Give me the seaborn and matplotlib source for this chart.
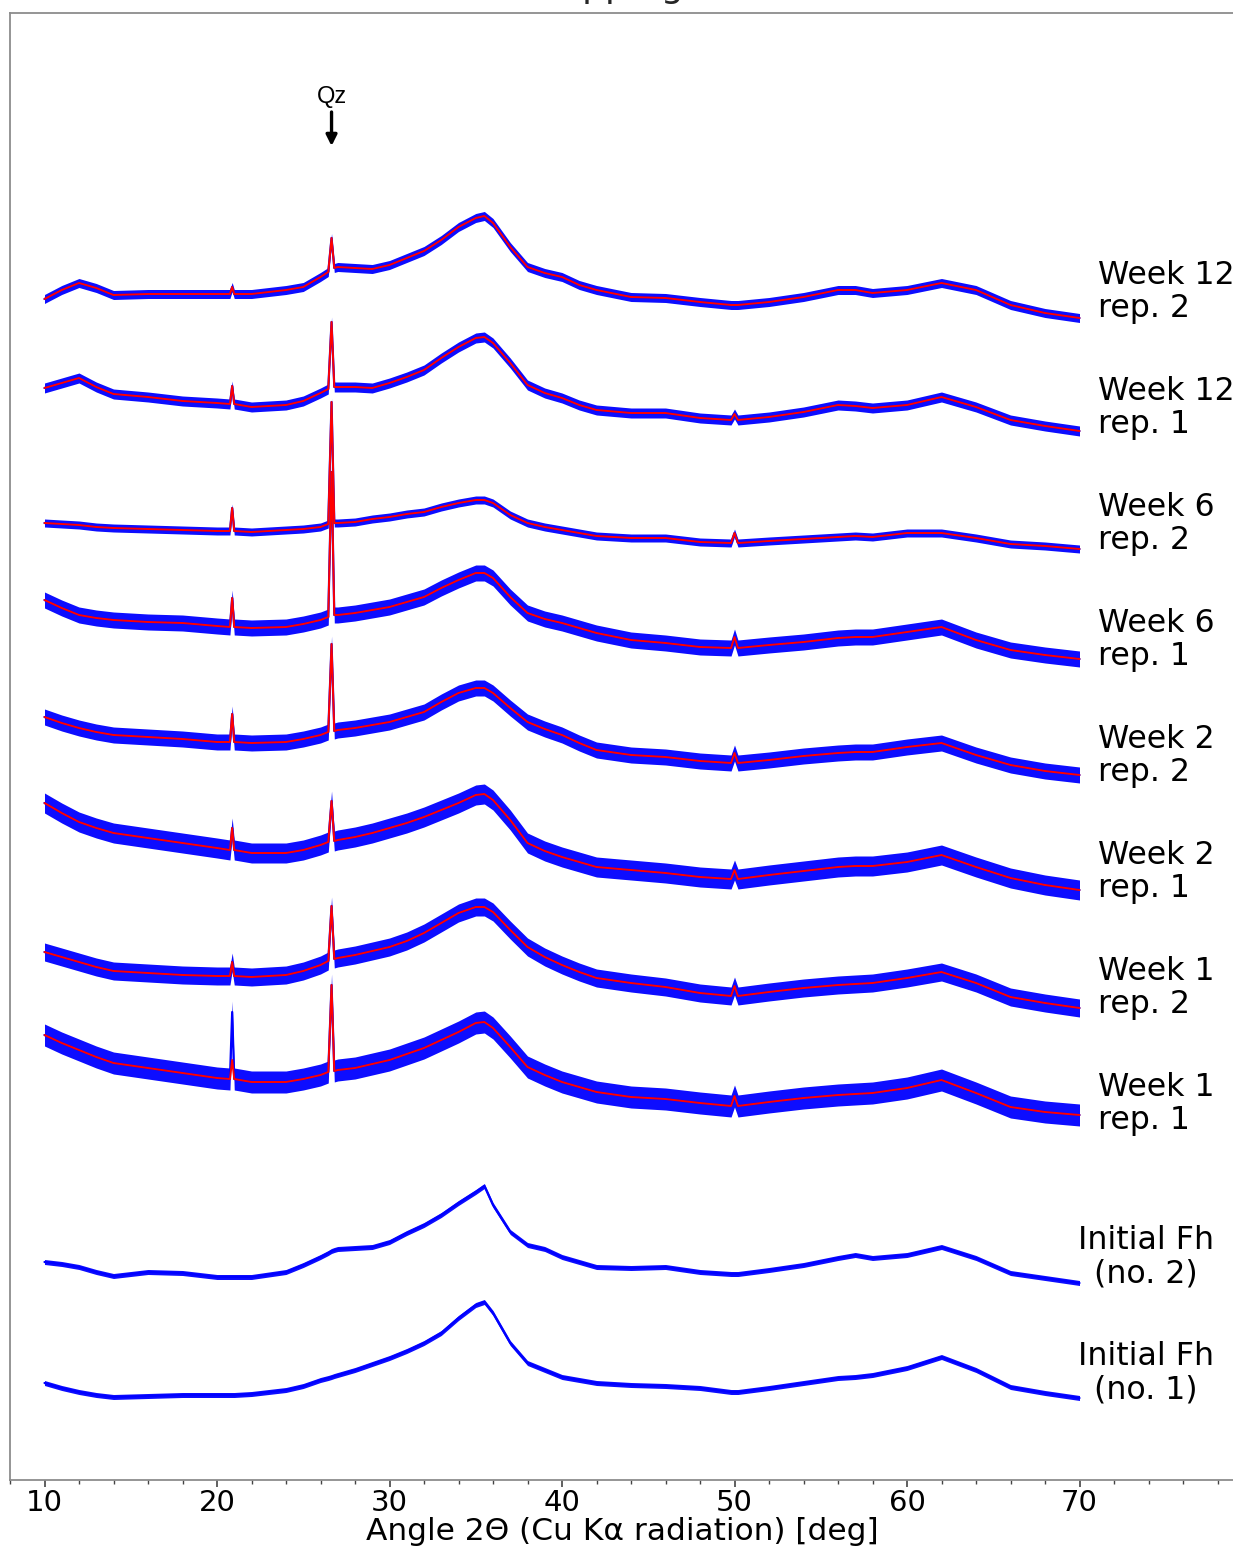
import numpy as np
import pandas as pd
import matplotlib
matplotlib.use("Agg")
import matplotlib.pyplot as plt
import seaborn as sns
from matplotlib.ticker import MultipleLocator

# ---------------- data (stacked intensities, a.u.) ----------------
two_theta = [10, 11, 12, 13, 14, 16, 18, 20, 20.75, 20.88, 21.0, 22, 24, 25, 26, 26.45, 26.64, 26.8,
             27, 28, 29, 30, 31, 32, 33, 34, 35, 35.5, 36, 37, 38, 39, 40, 41, 42, 44, 46, 48,
             49.8, 50, 50.2, 52, 54, 56, 57, 58, 60, 62, 64, 66, 68, 70]

# readings measured downward from the plot frame reference level (REF)
REF = 1480
w12_r2 = [299, 290, 283, 288, 295, 294, 294, 294, 294, 287, 294, 294, 290, 287, 277, 272, 238, 268,
          267, 268, 269, 265, 258, 251, 240, 227, 218, 216, 223, 247, 267, 273, 277, 285, 290, 297, 298, 302,
          305, 305, 305, 302, 297, 290, 290, 293, 290, 283, 290, 305, 313, 318]
w12_r1 = [388, 383, 378, 387, 394, 397, 401, 403, 404, 386, 404, 407, 405, 401, 393, 389, 322, 387,
          387, 387, 388, 383, 377, 370, 358, 347, 338, 337, 343, 363, 385, 393, 398, 405, 410, 413, 413, 418,
          420, 414, 420, 417, 412, 405, 406, 408, 405, 397, 407, 420, 426, 431]
w6_r2 = [523, 524, 525, 527, 528, 529, 530, 531, 531, 508, 531, 532, 530, 529, 527, 524, 402, 523,
         523, 522, 519, 517, 514, 512, 507, 503, 500, 500, 503, 515, 523, 527, 530, 533, 536, 538, 538, 542,
         543, 533, 543, 541, 539, 537, 536, 537, 533, 533, 538, 544, 546, 549]
w6_r1 = [600, 608, 615, 618, 620, 622, 623, 626, 627, 598, 627, 628, 627, 624, 620, 617, 472, 615,
         615, 613, 610, 607, 602, 597, 588, 580, 573, 573, 578, 597, 613, 619, 623, 628, 633, 640, 643, 647,
         648, 637, 648, 645, 642, 638, 637, 637, 632, 627, 640, 650, 655, 659]
w2_r2 = [717, 723, 728, 732, 735, 737, 739, 742, 742, 714, 742, 743, 742, 739, 735, 732, 644, 731,
         730, 728, 725, 722, 717, 712, 702, 693, 688, 688, 693, 708, 722, 729, 735, 743, 750, 755, 757, 761,
         763, 753, 763, 760, 756, 753, 752, 752, 747, 743, 755, 765, 771, 775]
w2_r1 = [803, 813, 822, 828, 833, 838, 843, 848, 850, 828, 850, 853, 853, 850, 845, 842, 801, 841,
         840, 837, 833, 828, 823, 817, 810, 803, 795, 794, 800, 820, 843, 851, 857, 862, 867, 870, 873, 877,
         879, 870, 879, 875, 871, 867, 866, 866, 862, 855, 867, 878, 885, 890]
w1_r2 = [952, 957, 962, 967, 971, 973, 975, 976, 976, 962, 976, 977, 975, 971, 965, 961, 906, 959,
         958, 955, 951, 947, 941, 933, 923, 913, 907, 907, 912, 930, 947, 957, 965, 972, 978, 983, 987, 993,
         996, 986, 996, 992, 988, 985, 984, 983, 978, 972, 983, 997, 1003, 1008]
w1_r1 = [1035, 1043, 1050, 1057, 1063, 1068, 1073, 1078, 1079, 1012, 1079, 1082, 1082, 1079, 1075, 1072, 985, 1071,
         1070, 1068, 1064, 1060, 1054, 1048, 1040, 1032, 1023, 1022, 1028, 1047, 1067, 1075, 1082, 1087, 1092, 1097, 1099, 1103,
         1106, 1096, 1106, 1102, 1098, 1095, 1094, 1093, 1088, 1080, 1093, 1107, 1112, 1115]
# fitted curve of week 1 rep. 1 differs from the measurement at the 20.9 deg spike
w1_r1_fit = [1035, 1043, 1050, 1057, 1063, 1068, 1073, 1078, 1079, 1060, 1079, 1082, 1082, 1079, 1075, 1072, 985, 1071,
             1070, 1068, 1064, 1060, 1054, 1048, 1040, 1032, 1023, 1022, 1028, 1047, 1067, 1075, 1082, 1087, 1092, 1097, 1099, 1103,
             1106, 1096, 1106, 1102, 1098, 1095, 1094, 1093, 1088, 1080, 1093, 1107, 1112, 1115]
init_2 = [1262, 1264, 1267, 1272, 1276, 1272, 1273, 1277, 1277, 1277, 1277, 1277, 1272, 1265, 1257, 1253, 1251, 1250,
          1249, 1248, 1247, 1242, 1233, 1225, 1215, 1203, 1192, 1186, 1205, 1232, 1245, 1249, 1257, 1262, 1267, 1268, 1267, 1272,
          1274, 1274, 1274, 1270, 1265, 1258, 1255, 1258, 1255, 1247, 1258, 1273, 1278, 1283]
init_1 = [1383, 1388, 1392, 1395, 1397, 1396, 1395, 1395, 1395, 1395, 1395, 1394, 1390, 1386, 1380, 1378, 1377, 1376,
          1375, 1370, 1364, 1358, 1351, 1343, 1333, 1318, 1305, 1302, 1313, 1343, 1363, 1370, 1377, 1380, 1383, 1385, 1386, 1388,
          1392, 1392, 1392, 1388, 1383, 1378, 1377, 1375, 1368, 1357, 1370, 1387, 1393, 1398]

fitted_names = ["Week 12\nrep. 2", "Week 12\nrep. 1", "Week 6\nrep. 2", "Week 6\nrep. 1",
                "Week 2\nrep. 2", "Week 2\nrep. 1", "Week 1\nrep. 2", "Week 1\nrep. 1"]
measured_series = [w12_r2, w12_r1, w6_r2, w6_r1, w2_r2, w2_r1, w1_r2, w1_r1]
fit_series = [w12_r2, w12_r1, w6_r2, w6_r1, w2_r2, w2_r1, w1_r2, w1_r1_fit]
noise_halfwidth = [4.5, 5, 4, 8, 8, 10, 9, 11]          # scatter of measured points around the fit
initial_names = ["Initial Fh\n(no. 2)", "Initial Fh\n(no. 1)"]
initial_series = [init_2, init_1]
initial_noise = [2.5, 2.5]

x_ticks = [10, 20, 30, 40, 50, 60, 70]
quartz_pos = 26.64


def tidy(names, series):
    rows = []
    for name, vals in zip(names, series):
        for t, v in zip(two_theta, vals):
            rows.append({"two_theta": t, "intensity": REF - v, "sample": name})
    return pd.DataFrame(rows)


meas_df = tidy(fitted_names + initial_names, measured_series + initial_series)
fit_df = tidy(fitted_names, fit_series)

# ---------------- style ----------------
sns.set_theme(style="ticks")
plt.rcParams["font.family"] = ["DejaVu Sans"]

W, H = 1233, 1551
fig = plt.figure(figsize=(W / 100, H / 100), dpi=100)
ax = fig.add_axes([10 / W, 71 / H, 1224.75 / W, 1467 / H])

x = np.array(two_theta)
# measured (blue) data: scatter band + centre line
for vals, hw in zip(measured_series + initial_series, noise_halfwidth + initial_noise):
    y = REF - np.array(vals, dtype=float)
    ax.fill_between(x, y - hw, y + hw, color="#0000ff", lw=0, alpha=0.95, zorder=2)

sns.lineplot(data=meas_df, x="two_theta", y="intensity", hue="sample",
             palette=["#0000ff"] * 10, estimator=None, legend=False, lw=1.6, ax=ax, zorder=3)
# fitted (red) curves
sns.lineplot(data=fit_df, x="two_theta", y="intensity", hue="sample",
             palette=["#ff0000"] * 8, estimator=None, legend=False, lw=1.4, ax=ax, zorder=4)

ax.set_xlim(8, 79)
ax.set_ylim(0, 1467)
ax.set_yticks([])
ax.set_ylabel("")
ax.set_xticks(x_ticks)
ax.xaxis.set_minor_locator(MultipleLocator(2))
ax.tick_params(axis="x", which="major", direction="out", length=5, width=1.2,
               color="#444444", labelsize=21, pad=1.5, labelcolor="black")
ax.tick_params(axis="x", which="minor", direction="out", length=3, width=1.0, color="#444444")
for s in ax.spines.values():
    s.set_color("#8c8c8c")
    s.set_linewidth(1.3)
ax.set_xlabel("Angle 2Θ (Cu Kα radiation) [deg]", fontsize=22.5, labelpad=0, color="black")

# sample labels
label_rows = [292, 408, 524, 640, 756, 872, 988, 1104]
for name, r in zip(fitted_names, label_rows):
    ax.text(71.08, REF - r, name, fontsize=22.8, ha="left", va="center",
            linespacing=1.1, color="black")
for name, r in zip(initial_names, [1257, 1373]):
    ax.text(73.85, REF - r, name, fontsize=22.8, ha="center", va="center",
            multialignment="center", linespacing=1.1, color="black")

# quartz marker
ax.text(quartz_pos, REF - 97, "Qz", fontsize=17, ha="center", va="center",
        family=["Liberation Sans", "DejaVu Sans"], color="black")
ax.annotate("", xy=(quartz_pos, REF - 146), xytext=(quartz_pos, REF - 112),
            arrowprops=dict(arrowstyle="-|>", lw=2.4, color="black", mutation_scale=16,
                            shrinkA=0, shrinkB=0))

# title (mostly outside the visible canvas)
fig.text(0.492, 1.0018, "Mapping", fontsize=26, ha="center", va="baseline")

fig.savefig("out.png", dpi=100)
